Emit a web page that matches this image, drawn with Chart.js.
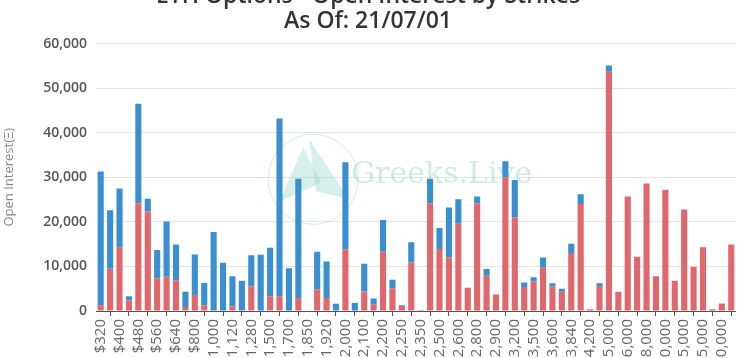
<!DOCTYPE html>
<html>
<head>
<meta charset="utf-8">
<script src="https://cdn.jsdelivr.net/npm/chart.js@4.4.1/dist/chart.umd.min.js"></script>
<style>
  html, body { margin: 0; padding: 0; background: #fff; overflow: hidden; width: 743px; height: 358px; }
  #wrap { position: absolute; left: 0; top: -20px; width: 743px; height: 420px; }
</style>
</head>
<body>
<div id="wrap"><canvas id="c"></canvas></div>
<script>
const strikes = ['$320','$360','$400','$440','$480','$520','$560','$600','$640','$720',
  '$800','$960','$1,000','$1,040','$1,120','$1,200','$1,280','$1,400','$1,500','$1,600',
  '$1,700','$1,800','$1,850','$1,900','$1,920','$1,950','$2,000','$2,050','$2,100','$2,150',
  '$2,200','$2,240','$2,250','$2,300','$2,350','$2,400','$2,500','$2,550','$2,600','$2,700',
  '$2,800','$2,850','$2,900','$3,000','$3,200','$3,400','$3,500','$3,520','$3,600','$3,800',
  '$3,840','$4,000','$4,200','$4,400','$5,000','$5,500','$6,000','$7,000','$8,000','$9,000',
  '$10,000','$12,000','$15,000','$20,000','$25,000','$30,000','$40,000','$50,000'];

const callOI = [1300,9500,14200,2400,24200,22300,7300,7700,6900,900,
  3600,1300,0,0,1000,0,5500,0,3300,3300,
  0,2900,0,4800,2900,0,13800,0,4400,1500,
  13300,5100,1100,10900,200,24100,13900,12000,19600,5200,
  24200,7900,3700,30000,21000,5400,6600,9700,5500,4300,
  13000,24000,400,5600,53700,4300,25700,12200,28600,7800,
  27200,6800,22800,9900,14300,400,1700,14900];

const putOI = [30000,13100,13300,900,22300,2900,6400,12400,8000,3400,
  9100,5000,17700,10800,6800,6800,7000,12600,10900,39900,
  9600,26800,0,8500,8200,1600,19600,1800,6200,1300,
  7100,1900,200,4500,0,5600,4700,11200,5500,0,
  1500,1500,0,3600,8400,1000,1000,2300,700,700,
  2100,2200,0,600,1400,0,0,0,0,0,
  0,0,0,0,0,0,0,0];

const yTicks = [0,10000,20000,30000,40000,50000,60000];

const watermark = {
  id: 'watermark',
  beforeDatasetsDraw(chart) {
    const {ctx, chartArea} = chart;
    ctx.save();
    const cx = chartArea.left + (chartArea.right - chartArea.left) * 0.43;
    const cy = chartArea.top + (chartArea.bottom - chartArea.top) * 0.5;
    ctx.strokeStyle = 'rgba(160,215,205,0.45)';
    ctx.lineWidth = 1;
    ctx.beginPath();
    ctx.arc(cx - 58, cy + 2, 45, 0, Math.PI * 2);
    ctx.stroke();
    ctx.fillStyle = 'rgba(140,210,195,0.35)';
    ctx.beginPath();
    ctx.moveTo(cx - 92, cy + 25);
    ctx.lineTo(cx - 68, cy - 30);
    ctx.lineTo(cx - 50, cy + 5);
    ctx.closePath();
    ctx.fill();
    ctx.beginPath();
    ctx.moveTo(cx - 62, cy - 38);
    ctx.lineTo(cx - 22, cy + 22);
    ctx.lineTo(cx - 55, cy + 14);
    ctx.closePath();
    ctx.fill();
    ctx.fillStyle = 'rgba(150,210,200,0.45)';
    ctx.font = '30px "DejaVu Serif", serif';
    ctx.textBaseline = 'middle';
    ctx.fillText('Greeks.Live', cx - 20, cy - 2);
    ctx.restore();
  }
};

new Chart(document.getElementById('c'), {
  type: 'bar',
  data: {
    labels: strikes,
    datasets: [
      { label: 'Call', data: callOI, backgroundColor: '#e0676c', stack: 's',
        categoryPercentage: 1, barPercentage: 0.65 },
      { label: 'Put', data: putOI, backgroundColor: '#3a8fd1', stack: 's',
        categoryPercentage: 1, barPercentage: 0.65 }
    ]
  },
  plugins: [watermark],
  options: {
    responsive: true,
    maintainAspectRatio: false,
    animation: false,
    layout: { padding: { left: 0, right: 7, top: 0, bottom: 0 } },
    plugins: {
      legend: { display: false },
      tooltip: { enabled: false },
      title: {
        display: true,
        text: ['ETH Options - Open Interest by Strikes', 'As Of: 21/07/01'],
        color: '#333',
        font: { family: '"Open Sans", sans-serif', size: 23, weight: '600', lineHeight: 1.1 },
        padding: { top: 4, bottom: 9 }
      }
    },
    scales: {
      x: {
        stacked: true,
        afterFit(s) { s.height = 89; },
        border: { display: true, color: '#555', width: 1 },
        grid: { drawOnChartArea: false, drawTicks: true, tickLength: 5, color: '#555' },
        ticks: {
          autoSkip: false,
          minRotation: 90, maxRotation: 90,
          color: '#666',
          padding: 3,
          font: { family: '"Open Sans", sans-serif', size: 15 },
          callback(v, i) { return i % 2 === 0 ? this.getLabelForValue(v) : null; }
        }
      },
      y: {
        stacked: true,
        min: 0, max: 60000,
        afterFit(s) { s.width = 96; },
        afterBuildTicks(s) { s.ticks = yTicks.map(v => ({ value: v })); },
        border: { display: false },
        grid: { color: '#e4e4e4', drawTicks: false },
        ticks: {
          color: '#555',
          padding: 9,
          font: { family: '"Open Sans", sans-serif', size: 14, weight: '600' },
          callback(v) { return v.toLocaleString('en-US'); }
        },
        title: {
          display: true,
          text: 'Open Interest(Ξ)',
          color: '#888',
          padding: { top: 1, bottom: 0 },
          font: { family: '"Open Sans", sans-serif', size: 13, weight: '400' }
        }
      }
    }
  }
});
</script>
</body>
</html>
